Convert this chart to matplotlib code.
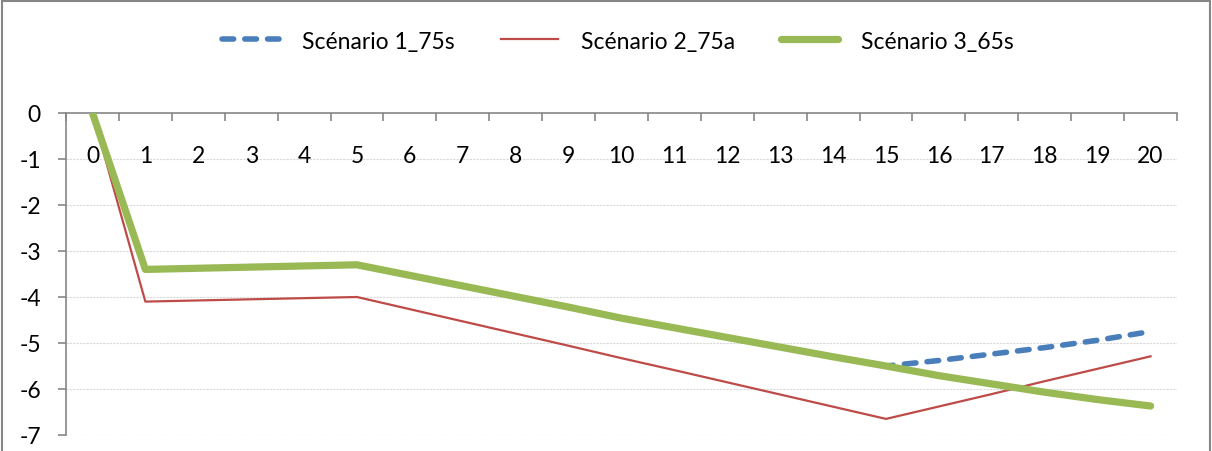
import matplotlib
matplotlib.use("Agg")
import matplotlib.pyplot as plt
from matplotlib.patches import Rectangle
from matplotlib.ticker import FixedLocator

# Years since start
years = list(range(0, 21))
year_labels = [str(y) for y in years]

# Scenario values
scenario_1 = [0.0, -3.40, -3.375, -3.35, -3.325, -3.30, -3.53, -3.76, -3.99, -4.22, -4.46,
              -4.67, -4.88, -5.09, -5.30, -5.50, -5.38, -5.24, -5.10, -4.94, -4.75]
scenario_2 = [0.0, -4.10, -4.075, -4.05, -4.025, -4.00, -4.265, -4.53, -4.795, -5.06, -5.33,
              -5.59, -5.855, -6.12, -6.385, -6.65, -6.38, -6.11, -5.83, -5.56, -5.29]
scenario_3 = [0.0, -3.40, -3.375, -3.35, -3.325, -3.30, -3.53, -3.76, -3.99, -4.22, -4.46,
              -4.67, -4.88, -5.09, -5.30, -5.50, -5.71, -5.89, -6.07, -6.23, -6.37]

series_names = ["Scénario 1_75s", "Scénario 2_75a", "Scénario 3_65s"]
y_ticks = [0, -1, -2, -3, -4, -5, -6, -7]

plt.rcParams['font.family'] = ['Lato', 'DejaVu Sans']
plt.rcParams['axes.unicode_minus'] = False

FS = 16.5
W, H = 1212, 452
fig = plt.figure(figsize=(W / 100, H / 100), dpi=100)
ax = fig.add_axes([66 / W, 1 - 436 / H, (1177 - 66) / W, (436 - 114) / H])

axis_grey = "#868686"

ax.plot(years, scenario_1, color="#4A7EBB", lw=4.0, ls=(0, (2.1, 2.0)),
        dash_capstyle="round", solid_capstyle="round", label=series_names[0], zorder=3)
ax.plot(years, scenario_2, color="#BE4B48", lw=1.6, label=series_names[1], zorder=4)
ax.plot(years, scenario_3, color="#98B954", lw=5.2, solid_capstyle="round",
        solid_joinstyle="round", label=series_names[2], zorder=5)

ax.set_xlim(-0.5, 20.5)
ax.set_ylim(-7, 0)

# Horizontal gridlines
for yv in y_ticks[1:]:
    ax.axhline(yv, color="#D9D9D9", lw=0.8, ls=(0, (2, 1)), zorder=1)

for s in ["right", "bottom"]:
    ax.spines[s].set_visible(False)
for s in ["top", "left"]:
    ax.spines[s].set_color(axis_grey)
    ax.spines[s].set_linewidth(1.2)

# Category axis sits at y = 0 (top), labels hang below it
ax.xaxis.set_ticks_position("top")
ax.xaxis.set_major_locator(FixedLocator(years))
ax.set_xticklabels(year_labels)
ax.xaxis.set_minor_locator(FixedLocator([y - 0.5 for y in years] + [20.5]))
ax.tick_params(axis="x", which="major", length=0, labeltop=True, labelbottom=False,
               pad=-38, labelsize=FS)
ax.tick_params(axis="x", which="minor", direction="in", length=6, width=1.2,
               color=axis_grey, top=True, bottom=False)

ax.set_yticks(y_ticks)
ax.tick_params(axis="y", which="major", direction="out", length=6, width=1.2,
               color=axis_grey, pad=12, labelsize=FS)

leg = fig.legend(loc="center", bbox_to_anchor=(618 / W, 1 - 42 / H), ncol=3, frameon=False,
                 fontsize=FS, handlelength=2.5, columnspacing=2.0, handletextpad=1.0)

# Chart area border
fig.patches.append(Rectangle((2 / W, -0.05), (W - 4) / W, 1.05 - 2 / H,
                             transform=fig.transFigure, fill=False,
                             edgecolor=axis_grey, lw=1.5))

fig.savefig("out.png", dpi=100)
